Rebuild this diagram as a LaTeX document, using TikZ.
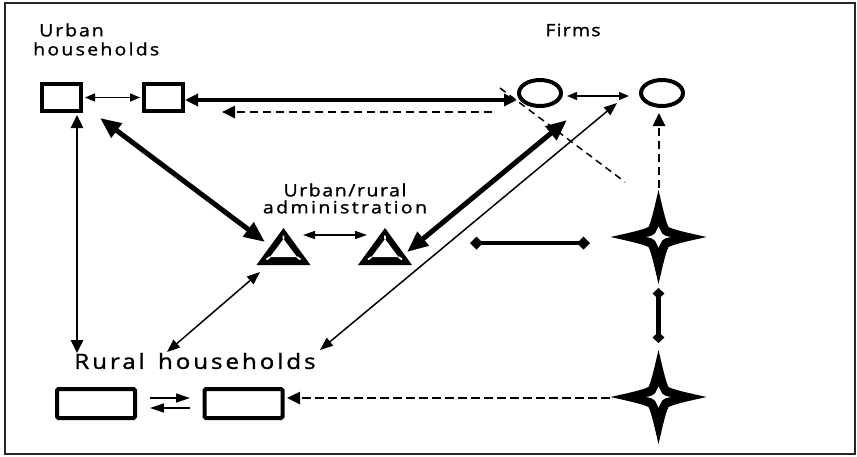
\documentclass[tikz,border=0pt]{standalone}
\usepackage{fontspec}
\usetikzlibrary{arrows.meta,calc,shapes.geometric}
\newfontfamily\lblfont[FakeStretch=1.15,FakeBold=1.3]{Open Sans}
\tikzset{
  star4/.pic={
    \fill[black] (48,0) .. controls (30,4) and (16,7) .. (10,10) .. controls (7,16) and (4,30) .. (0,47)
      .. controls (-4,30) and (-7,16) .. (-10,10) .. controls (-16,7) and (-30,4) .. (-48,0)
      .. controls (-30,-4) and (-16,-7) .. (-10,-10) .. controls (-7,-16) and (-4,-30) .. (0,-47)
      .. controls (4,-30) and (7,-16) .. (10,-10) .. controls (16,-7) and (30,-4) .. cycle;
    \fill[white] (12.5,0) .. controls (7,1) .. (3.5,3.5) .. controls (1,7) .. (0,10.5)
      .. controls (-1,7) .. (-3.5,3.5) .. controls (-7,1) .. (-12.5,0)
      .. controls (-7,-1) .. (-3.5,-3.5) .. controls (-1,-7) .. (0,-10.5)
      .. controls (1,-7) .. (3.5,-3.5) .. controls (7,-1) .. cycle;
  },
  trisym/.pic={
    \fill[black] (0,-23) -- (27,14) -- (-27,14) -- cycle;
    \fill[white] (0,-12) -- (13.5,6) -- (-13.5,6) -- cycle;
    \draw[white,line width=1.8pt] (0,-12) -- (0,-15.5) (13.5,6) -- (17,8.5) (-13.5,6) -- (-17,8.5);
  }
}
\begin{document}
\begin{tikzpicture}[x=1pt,y=-1pt,
  box/.style={draw,line width=4pt,minimum width=39pt,minimum height=27pt,inner sep=0pt},
  rbox/.style={draw,line width=4pt,minimum width=78pt,minimum height=29pt,inner sep=0pt,rounded corners=1.5pt},
  firm/.style={draw,ellipse,line width=4pt,fill=white,minimum width=42pt,minimum height=26pt,inner sep=0pt},
  anchorpt/.style={inner sep=0pt,minimum size=0pt},
  lbl/.style={inner sep=0pt,font=\lblfont\fontsize{17}{19}\selectfont},
  thinarr/.style={line width=1.5pt,{Triangle[length=10pt,width=8pt]}-{Triangle[length=10pt,width=8pt]}},
  thinarrB/.style={line width=1.5pt,{Triangle[length=13pt,width=10pt]}-{Triangle[length=13pt,width=10pt]}},
  medarr/.style={line width=2.5pt,{Triangle[length=13pt,width=12pt]}-{Triangle[length=13pt,width=12pt]}},
  thickarr/.style={line width=5pt,{Triangle[length=21pt,width=17pt]}-{Triangle[length=21pt,width=17pt]}},
  hthickarr/.style={line width=4.5pt,{Triangle[length=13pt,width=12pt]}-{Triangle[length=13pt,width=12pt]}},
  dasharr/.style={line width=2.5pt,dash pattern=on 8.5pt off 4.5pt,-{Triangle[length=13pt,width=12pt]}},
  diagdash/.style={line width=1.5pt,dash pattern=on 7pt off 5pt},
  halfarr/.style={line width=1.5pt,-{Triangle[length=14pt,width=9pt]}},
  diamline/.style={line width=4pt,{Diamond[length=13pt,width=13pt]}-{Diamond[length=13pt,width=13pt]}},
  diamlineV/.style={line width=4.5pt,{Diamond[length=11pt,width=12pt]}-{Diamond[length=11pt,width=12pt]}}
]
\useasboundingbox (0,0) rectangle (857,456);
\draw[line width=1.5pt,black!85] (5,3) rectangle (855,454);

% labels
\node[lbl,anchor=west,align=left] (uhl) at (33,39.5) {\hspace*{6pt}{\addfontfeature{LetterSpace=11}Urban}\\{\addfontfeature{LetterSpace=13}households}};
\node[lbl] (firml) at (573,30) {\addfontfeature{LetterSpace=7}Firms};
\node[lbl,align=center,font=\lblfont\fontsize{17}{17}\selectfont] (adml) at (345,198.5) {{\addfontfeature{LetterSpace=9}Urban/rural}\\{\addfontfeature{LetterSpace=14}administration}};
\node[lbl,font=\lblfont\fontsize{21}{23}\selectfont] (rural) at (195,361) {\addfontfeature{LetterSpace=14}Rural\hspace{4pt} households};

% diagonal dashed separator (behind firm)
\node[anchorpt] (f1c) at (540,93) {};
\draw[diagdash] ($(f1c)+(-40,-5)$) -- ($(f1c)+(85,89)$);

% nodes
\node[box] (ub1) at (61.5,97.5) {};
\node[box] (ub2) at (163.5,97.5) {};
\node[firm] (f1) at (540,93) {};
\node[firm] (f2) at (662,93) {};
\node[anchorpt] (t1) at (283.5,251) {};
\node[anchorpt] (t2) at (385,251) {};
\pic at (t1) {trisym};
\pic at (t2) {trisym};
\node[anchorpt] (s1) at (658.5,237) {};
\node[anchorpt] (s2) at (658.5,397) {};
\pic at (s1) {star4};
\pic at (s2) {star4};
\node[rbox] (rb1) at (96,403.5) {};
\node[rbox] (rb2) at (243.5,403.5) {};
\coordinate (d1) at (470,243);
\coordinate (d2) at (590,243);

% connectors
\draw[thinarr,shorten <=2pt,shorten >=2pt] (ub1.east) -- (ub2.west);
\draw[hthickarr] ([yshift=-2.5pt]ub2.east) -- ([yshift=-7pt]f1.west);
\draw[dasharr,shorten <=25pt,shorten >=37pt] ([yshift=-19pt]f1.west) -- ([yshift=-14.5pt]ub2.east);
\draw[thinarr,shorten <=4pt,shorten >=10pt] ([yshift=-3pt]f1.east) -- ([yshift=-3pt]f2.west);
\draw[thickarr] ($(ub1)+(38.5,20.5)$) -- ($(t1)+(-18.5,-9)$);
\draw[medarr] ($(ub1)+(15.5,17.5)$) -- ($(rural)+(-118,-8)$);
\draw[thinarrB] ($(t1)+(-23.5,21)$) -- ($(rural)+(-28,-9)$);
\draw[thinarrB] ($(f2)+(-45,10)$) -- ($(rural)+(125,-11)$);
\draw[thickarr] ($(f1)+(27,27)$) -- ($(t2)+(22,1)$);
\draw[thinarr,{Triangle[length=12pt,width=8pt]}-{Triangle[length=12pt,width=8pt]}] ($(t1)+(19.5,-16)$) -- ($(t2)+(-18,-16)$);
\draw[dasharr,line width=2.5pt,dash pattern=on 8pt off 5pt] ($(s1)+(0.5,-49)$) -- ($(f2)+(-3,20)$);
\draw[dasharr] ($(s2)+(-49,1)$) -- ($(rb2)+(43.5,-5.5)$);
\draw[halfarr] ($(rb1)+(54,-5.5)$) -- ($(rb2)+(-53.5,-5.5)$);
\draw[halfarr] ($(rb2)+(-53.5,4.5)$) -- ($(rb1)+(54,4.5)$);
\draw[diamline] (d1) -- (d2);
\draw[diamlineV] ($(s1)+(0,51)$) -- ($(s2)+(0,-54)$);
\end{tikzpicture}
\end{document}
